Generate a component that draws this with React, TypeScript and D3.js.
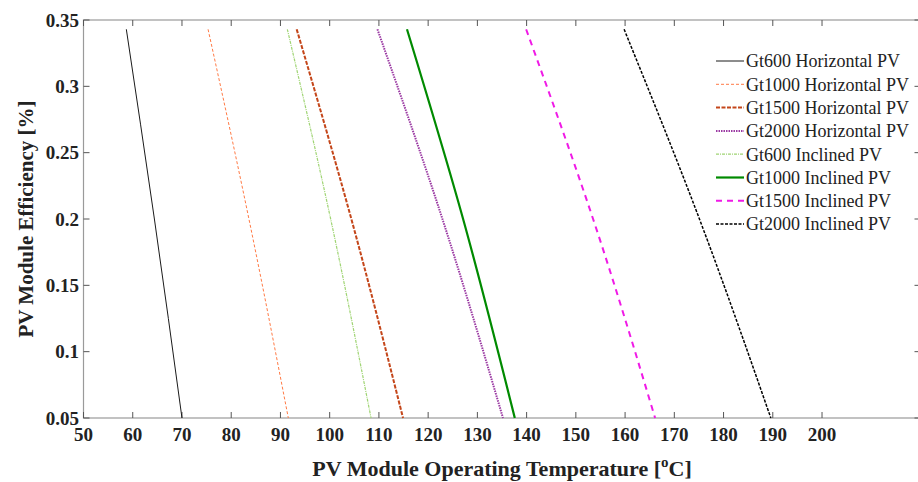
import React from 'react';
import * as d3 from 'd3';

const effLevels = [0.343, 0.2, 0.05];

// operating temperature [oC] for each series at the levels above
const gt600Horizontal = [58.7, 64.4, 70.0];
const gt1000Horizontal = [75.3, 83.6, 91.6];
const gt1500Horizontal = [93.3, 104.4, 114.9];
const gt2000Horizontal = [109.7, 122.9, 135.2];
const gt600Inclined = [91.4, 100.2, 108.4];
const gt1000Inclined = [115.7, 127.1, 137.6];
const gt1500Inclined = [139.9, 153.5, 166.1];
const gt2000Inclined = [159.8, 175.1, 189.6];

const seriesNames = [
  'Gt600 Horizontal PV',
  'Gt1000 Horizontal PV',
  'Gt1500 Horizontal PV',
  'Gt2000 Horizontal PV',
  'Gt600 Inclined PV',
  'Gt1000 Inclined PV',
  'Gt1500 Inclined PV',
  'Gt2000 Inclined PV',
];

const xTicks = [50, 60, 70, 80, 90, 100, 110, 120, 130, 140, 150, 160, 170, 180, 190, 200];
const yTicks = [0.05, 0.1, 0.15, 0.2, 0.25, 0.3, 0.35];

const styles = [
  { color: '#1a1a1a', width: 1, dash: null },
  { color: '#ff7a45', width: 1, dash: '3,2' },
  { color: '#c4461a', width: 2, dash: '4,1.5' },
  { color: '#9b3aa3', width: 2, dash: '1.5,1' },
  { color: '#9fd473', width: 1.2, dash: '3,1,1,1' },
  { color: '#008a00', width: 2.2, dash: null },
  { color: '#f01ae6', width: 2, dash: '6,5' },
  { color: '#000000', width: 1.5, dash: '3,1.5' },
];

const W = 918;
const H = 482;

export default function App() {
  const allSeries = [
    gt600Horizontal, gt1000Horizontal, gt1500Horizontal, gt2000Horizontal,
    gt600Inclined, gt1000Inclined, gt1500Inclined, gt2000Inclined,
  ];

  const x = d3.scaleLinear().domain([50, 220]).range([83.5, 920.5]);
  const y = d3.scaleLinear().domain([0.05, 0.35]).range([418, 20]);

  const line = d3.line<[number, number]>()
    .x(d => x(d[0]))
    .y(d => y(d[1]))
    .curve(d3.curveMonotoneY);

  const [x0, x1] = x.range();
  const [yb, yt] = y.range();
  const tickLen = 6;
  const axisColor = '#9a9a9a';
  const tickColor = '#555';
  const font = '"Liberation Serif", "Times New Roman", serif';

  const legendX = 716;
  const legendY = 61;
  const legendStep = 23.3;

  return (
    <svg width={W} height={H} style={{ position: 'absolute', left: 0, top: 0 }}
         fontFamily={font}>
      <rect width={W} height={H} fill="#fff" />

      {/* frame */}
      <rect x={x0} y={yt} width={x1 - x0} height={yb - yt}
            fill="none" stroke={axisColor} strokeWidth={1.2} />

      {/* x ticks, bottom and top */}
      {xTicks.map(t => (
        <g key={'x' + t}>
          <line x1={x(t)} x2={x(t)} y1={yb} y2={yb - tickLen} stroke={tickColor} />
          <line x1={x(t)} x2={x(t)} y1={yt} y2={yt + tickLen} stroke={tickColor} />
          <text x={x(t)} y={441} textAnchor="middle" fontSize={19}
                fontWeight="bold" fill="#222">{t}</text>
        </g>
      ))}

      {/* y ticks, left and right */}
      {yTicks.map(t => (
        <g key={'y' + t}>
          <line x1={x0} x2={x0 + tickLen} y1={y(t)} y2={y(t)} stroke={tickColor} />
          <line x1={x1} x2={x1 - tickLen} y1={y(t)} y2={y(t)} stroke={tickColor} />
          <text x={79} y={y(t)} dy="0.35em" textAnchor="end" fontSize={19}
                fontWeight="bold" fill="#222">{+t.toFixed(2)}</text>
        </g>
      ))}

      {/* series */}
      {allSeries.map((temps, i) => (
        <path key={seriesNames[i]}
              d={line(temps.map((t, j) => [t, effLevels[j]] as [number, number])) || ''}
              fill="none" stroke={styles[i].color} strokeWidth={styles[i].width}
              strokeDasharray={styles[i].dash || undefined} />
      ))}

      {/* legend */}
      {seriesNames.map((name, i) => {
        const ly = legendY + i * legendStep;
        return (
          <g key={'lg' + i}>
            <line x1={legendX} x2={legendX + 28} y1={ly} y2={ly}
                  stroke={styles[i].color} strokeWidth={styles[i].width}
                  strokeDasharray={styles[i].dash || undefined} />
            <text x={legendX + 30} y={ly} dy="0.35em" fontSize={18} fill="#222">{name}</text>
          </g>
        );
      })}

      {/* axis titles */}
      <text x={(x0 + x1) / 2} y={476} textAnchor="middle" fontSize={22}
            fontWeight="bold" fill="#222">
        PV Module Operating Temperature [<tspan dy={-9} fontSize={15}>o</tspan>
        <tspan dy={9}>C]</tspan>
      </text>
      <text transform={`translate(33,${(yb + yt) / 2}) rotate(-90)`} textAnchor="middle"
            fontSize={21} fontWeight="bold" fill="#222">
        PV Module Efficiency [%]
      </text>
    </svg>
  );
}
